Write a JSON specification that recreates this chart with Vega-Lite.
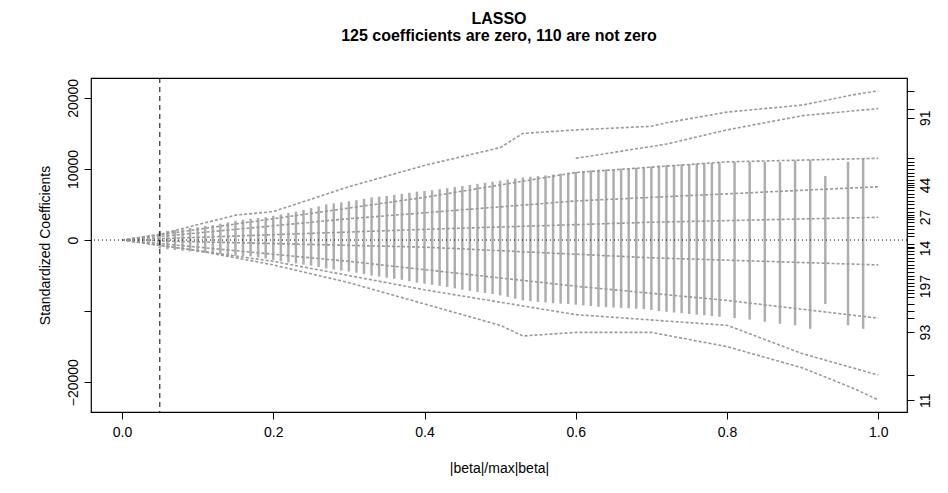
{
"$schema":"https://vega.github.io/schema/vega-lite/v6.json",
"autosize":"none","width":816,"height":334,
"padding":{"left":91,"top":78,"right":41,"bottom":81},
"background":"white",
"config":{"view":{"stroke":"black","strokeWidth":1.2},"font":"Liberation Sans","axis":{"grid":false,"domain":false,"tickColor":"black","labelColor":"black","labelFont":"Liberation Sans","labelFontSize":14,"titleFont":"Liberation Sans","titleFontSize":14,"titleFontWeight":"normal","tickSize":7}},
"title":{"text":"LASSO","subtitle":"125 coefficients are zero, 110 are not zero","fontSize":16,"subtitleFontSize":16,"subtitleFontWeight":"bold","subtitleColor":"black","anchor":"middle","offset":34,"subtitlePadding":1},
"datasets":{
"paths":[
{"s":"a","x":0,"y":0},{"s":"a","x":0.05,"y":800},{"s":"a","x":0.15,"y":3500},{"s":"a","x":0.2,"y":4000},{"s":"a","x":0.3,"y":7500},{"s":"a","x":0.4,"y":10500},{"s":"a","x":0.5,"y":13000},{"s":"a","x":0.53,"y":15000},{"s":"a","x":0.6,"y":15500},{"s":"a","x":0.7,"y":16000},{"s":"a","x":0.72,"y":16500},{"s":"a","x":0.8,"y":18000},{"s":"a","x":0.9,"y":19000},{"s":"a","x":0.97,"y":20500},{"s":"a","x":1,"y":21000},
{"s":"b","x":0.6,"y":11500},{"s":"b","x":0.72,"y":13500},{"s":"b","x":0.8,"y":15500},{"s":"b","x":0.9,"y":17500},{"s":"b","x":1,"y":18500},
{"s":"c","x":0,"y":0},{"s":"c","x":0.2,"y":3000},{"s":"c","x":0.4,"y":6000},{"s":"c","x":0.6,"y":9500},{"s":"c","x":0.8,"y":11000},{"s":"c","x":1,"y":11500},
{"s":"d","x":0,"y":0},{"s":"d","x":0.3,"y":3000},{"s":"d","x":0.6,"y":5500},{"s":"d","x":0.8,"y":6500},{"s":"d","x":1,"y":7500},
{"s":"e","x":0,"y":0},{"s":"e","x":0.1,"y":-1500},{"s":"e","x":0.2,"y":-3500},{"s":"e","x":0.3,"y":-6000},{"s":"e","x":0.4,"y":-9000},{"s":"e","x":0.5,"y":-12000},{"s":"e","x":0.53,"y":-13500},{"s":"e","x":0.6,"y":-13000},{"s":"e","x":0.7,"y":-13000},{"s":"e","x":0.8,"y":-15000},{"s":"e","x":0.9,"y":-18000},{"s":"e","x":0.97,"y":-21000},{"s":"e","x":1,"y":-22500},
{"s":"f","x":0,"y":0},{"s":"f","x":0.2,"y":-3000},{"s":"f","x":0.4,"y":-7000},{"s":"f","x":0.6,"y":-10500},{"s":"f","x":0.8,"y":-12000},{"s":"f","x":0.9,"y":-16000},{"s":"f","x":1,"y":-19000},
{"s":"g","x":0,"y":0},{"s":"g","x":0.3,"y":-3000},{"s":"g","x":0.6,"y":-6500},{"s":"g","x":0.8,"y":-8500},{"s":"g","x":1,"y":-11000},
{"s":"h","x":0,"y":0},{"s":"h","x":0.4,"y":1500},{"s":"h","x":0.7,"y":2500},{"s":"h","x":1,"y":3200},
{"s":"i","x":0,"y":0},{"s":"i","x":0.4,"y":-1000},{"s":"i","x":0.7,"y":-2500},{"s":"i","x":1,"y":-3500}
],
"bands":[
{"x":0.05,"lo":-1200,"hi":1200},{"x":0.06,"lo":-1300,"hi":1300},{"x":0.07,"lo":-1400,"hi":1400},{"x":0.08,"lo":-1500,"hi":1500},{"x":0.09,"lo":-1600,"hi":1700},{"x":0.10,"lo":-1700,"hi":1800},{"x":0.11,"lo":-1800,"hi":2000},{"x":0.12,"lo":-1900,"hi":2100},{"x":0.13,"lo":-2000,"hi":2300},{"x":0.14,"lo":-2100,"hi":2500},{"x":0.15,"lo":-2200,"hi":2700},{"x":0.16,"lo":-2250,"hi":2850},{"x":0.17,"lo":-2300,"hi":3000},{"x":0.18,"lo":-2450,"hi":3100},{"x":0.19,"lo":-2600,"hi":3200},{"x":0.20,"lo":-2800,"hi":3400},{"x":0.21,"lo":-3000,"hi":3600},{"x":0.22,"lo":-3150,"hi":3800},{"x":0.23,"lo":-3300,"hi":4000},{"x":0.24,"lo":-3450,"hi":4250},{"x":0.25,"lo":-3600,"hi":4500},{"x":0.26,"lo":-3800,"hi":4750},{"x":0.27,"lo":-4000,"hi":5000},{"x":0.28,"lo":-4150,"hi":5150},{"x":0.29,"lo":-4300,"hi":5300},{"x":0.30,"lo":-4450,"hi":5450},{"x":0.31,"lo":-4600,"hi":5600},{"x":0.32,"lo":-4800,"hi":5800},{"x":0.33,"lo":-5000,"hi":6000},{"x":0.34,"lo":-5150,"hi":6100},{"x":0.35,"lo":-5300,"hi":6200},{"x":0.36,"lo":-5450,"hi":6350},{"x":0.37,"lo":-5600,"hi":6500},{"x":0.38,"lo":-5800,"hi":6650},{"x":0.39,"lo":-6000,"hi":6800},{"x":0.40,"lo":-6150,"hi":6900},{"x":0.41,"lo":-6300,"hi":7000},{"x":0.42,"lo":-6450,"hi":7150},{"x":0.43,"lo":-6600,"hi":7300},{"x":0.44,"lo":-6800,"hi":7450},{"x":0.45,"lo":-7000,"hi":7600},{"x":0.46,"lo":-7150,"hi":7750},{"x":0.47,"lo":-7300,"hi":7900},{"x":0.48,"lo":-7450,"hi":8050},{"x":0.49,"lo":-7600,"hi":8200},{"x":0.50,"lo":-7800,"hi":8350},{"x":0.51,"lo":-8000,"hi":8500},{"x":0.52,"lo":-8250,"hi":8650},{"x":0.53,"lo":-8500,"hi":8800},{"x":0.54,"lo":-8600,"hi":8900},{"x":0.55,"lo":-8700,"hi":9000},{"x":0.56,"lo":-8800,"hi":9100},{"x":0.57,"lo":-8900,"hi":9200},{"x":0.58,"lo":-8950,"hi":9350},{"x":0.59,"lo":-9000,"hi":9500},{"x":0.60,"lo":-9100,"hi":9600},{"x":0.61,"lo":-9200,"hi":9700},{"x":0.62,"lo":-9300,"hi":9800},{"x":0.63,"lo":-9400,"hi":9900},{"x":0.64,"lo":-9450,"hi":9950},{"x":0.65,"lo":-9500,"hi":10000},{"x":0.66,"lo":-9550,"hi":10050},{"x":0.67,"lo":-9600,"hi":10100},{"x":0.68,"lo":-9650,"hi":10150},{"x":0.69,"lo":-9700,"hi":10200},{"x":0.70,"lo":-9850,"hi":10350},{"x":0.71,"lo":-10000,"hi":10500},{"x":0.72,"lo":-10100,"hi":10550},{"x":0.73,"lo":-10200,"hi":10600},{"x":0.74,"lo":-10300,"hi":10650},{"x":0.75,"lo":-10400,"hi":10700},{"x":0.76,"lo":-10500,"hi":10750},{"x":0.77,"lo":-10600,"hi":10800},{"x":0.78,"lo":-10700,"hi":10850},{"x":0.79,"lo":-10800,"hi":10900},{"x":0.81,"lo":-11000,"hi":11000},{"x":0.83,"lo":-11200,"hi":11000},{"x":0.85,"lo":-11500,"hi":11000},{"x":0.87,"lo":-11800,"hi":11000},{"x":0.89,"lo":-12000,"hi":11200},{"x":0.91,"lo":-12500,"hi":11300},{"x":0.93,"lo":-9000,"hi":9000},{"x":0.96,"lo":-12000,"hi":11000},{"x":0.98,"lo":-12500,"hi":11500}
]
},
"layer":[
{"data":{"name":"bands"},"mark":{"type":"rule","color":"#a0a0a0","strokeWidth":2.5,"opacity":0.85},
 "encoding":{"x":{"field":"x","type":"quantitative","scale":{"domain":[-0.041,1.038],"nice":false,"zero":false},"axis":{"values":[0,0.2,0.4,0.6,0.8,1.0],"format":".1f","title":"|beta|/max|beta|","titlePadding":22,"labelPadding":6}},
  "y":{"field":"lo","type":"quantitative","scale":{"domain":[-24200,22800],"nice":false},"axis":{"values":[-20000,-10000,0,10000,20000],"labelExpr":"datum.value==-10000?'':(datum.value<0?'−':'')+abs(datum.value)","labelAngle":-90,"labelAlign":"center","labelBaseline":"bottom","labelPadding":4,"title":"Standardized Coefficients","titlePadding":14}},
  "y2":{"field":"hi"}}},
{"data":{"name":"paths"},"mark":{"type":"line","color":"#999999","strokeWidth":1.6,"strokeDash":[3,2]},
 "encoding":{"x":{"field":"x","type":"quantitative"},"y":{"field":"y","type":"quantitative","scale":{"domain":[-24200,22800],"nice":false},"axis":null},"detail":{"field":"s"}}},
{"data":{"values":[{"x":0.05}]},"mark":{"type":"rule","color":"black","strokeDash":[5,4]},"encoding":{"x":{"field":"x","type":"quantitative"}}},
{"data":{"values":[{"y":0}]},"mark":{"type":"rule","color":"black","strokeDash":[1,3]},"encoding":{"y":{"field":"y","type":"quantitative","scale":{"domain":[-24200,22800],"nice":false},"axis":null}}},
{"data":{"values":[{"y":0}]},"mark":{"type":"point","opacity":0},"encoding":{"y":{"field":"y","type":"quantitative","scale":{"domain":[-24200,22800],"nice":false},
 "axis":{"orient":"right","title":null,"values":[21000,18500,17200,11500,11000,10500,10000,9500,9000,8500,8000,7750,7500,7000,6500,6000,5500,5000,4500,4000,3500,3240,3000,2500,2000,1500,1000,500,-500,-1000,-1130,-1500,-2000,-2500,-3000,-3500,-4000,-4500,-5000,-5500,-6000,-6480,-7000,-7500,-8000,-9000,-10000,-11000,-12960,-19000,-22535],
 "labelExpr":"datum.value==17200?'91':datum.value==7750?'44':datum.value==3240?'27':datum.value==-1130?'14':datum.value==-6480?'197':datum.value==-12960?'93':datum.value==-22535?'11':''","labelAngle":-90,"labelAlign":"center","labelBaseline":"top","labelPadding":4}}}}
],
"resolve":{"scale":{"y":"independent"}}
}
